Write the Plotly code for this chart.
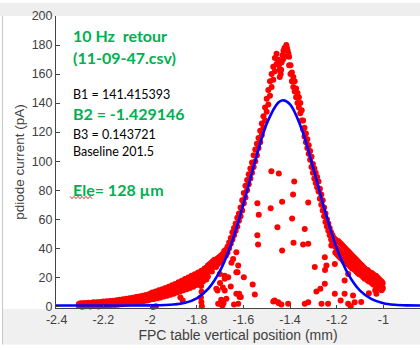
import plotly.graph_objects as go

# ---------------- data ----------------
tail_x = [-2.305, -2.298, -2.291, -2.284, -2.277, -2.270, -2.263, -2.256, -2.249, -2.242, -2.235,
          -2.228, -2.221, -2.214, -2.207, -2.200, -2.193, -2.186, -2.179, -2.172, -2.165, -2.158,
          -2.151, -2.144, -2.137, -2.130, -2.123, -2.116, -2.109, -2.102, -2.095, -2.088, -2.081,
          -2.074, -2.067, -2.060, -2.053, -2.046, -2.039, -2.032, -2.025, -2.018, -2.011, -2.004]
tail_lo = [0.2, 0.8, -0.3, 0.5, 0.0, 0.9, 0.3, -0.2, 0.6, 1.0, 0.1, 0.7, -0.1, 0.9, 0.4, 1.2, 0.5,
           1.0, 0.2, 1.3, 0.8, 1.5, 0.9, 1.6, 1.1, 1.9, 1.4, 2.0, 1.6, 2.4, 1.9, 2.6, 2.2, 2.9, 2.5,
           3.2, 2.8, 3.5, 3.1, 3.8, 3.6, 4.2, 3.9, 4.5]
tail_hi = [1.5, 2.0, 1.8, 2.3, 1.6, 2.2, 2.5, 1.9, 2.4, 2.7, 2.1, 2.8, 2.5, 3.0, 2.6, 3.2, 2.9,
           3.4, 3.0, 3.6, 3.3, 3.8, 3.5, 4.1, 3.9, 4.4, 4.2, 4.8, 4.5, 5.1, 4.9, 5.5, 5.2, 5.9, 5.6,
           6.3, 6.0, 6.8, 6.5, 7.2, 7.0, 7.8, 7.4, 8.3]

mid_x = [-1.997, -1.990, -1.983, -1.976, -1.969, -1.962, -1.955, -1.948, -1.941, -1.934, -1.927,
         -1.920, -1.913, -1.906, -1.899, -1.892, -1.885, -1.878, -1.871, -1.864, -1.857, -1.850,
         -1.843, -1.836, -1.829, -1.822, -1.815, -1.808, -1.801, -1.794, -1.787, -1.780, -1.773,
         -1.766, -1.759, -1.752]
mid_lo = [4.8, 5.2, 5.0, 5.8, 5.5, 6.4, 6.0, 7.0, 6.8, 7.5, 7.2, 8.3, 8.0, 9.0, 8.6, 9.8, 9.4,
          10.5, 10.2, 11.4, 11.0, 12.2, 11.8, 13.0, 12.6, 14.0, 13.5, 15.0, 14.6, 16.2, 15.8, 17.5,
          17.0, 19.0, 18.5, 20.5]
mid_md = [6.5, 7.0, 7.4, 7.8, 8.0, 8.6, 8.8, 9.3, 9.6, 10.0, 10.4, 11.0, 11.2, 11.8, 12.0, 12.6,
          12.8, 13.5, 13.6, 14.4, 14.6, 15.5, 15.6, 16.4, 16.8, 17.5, 17.6, 18.4, 18.8, 19.6, 20.0,
          21.0, 21.2, 22.4, 22.8, 24.0]
mid_hi = [8.8, 9.5, 9.2, 10.2, 10.0, 11.0, 10.6, 11.8, 11.5, 12.6, 12.2, 13.5, 13.2, 14.5, 14.0,
          15.4, 15.0, 16.5, 16.2, 17.6, 17.2, 18.8, 18.5, 19.8, 19.5, 21.0, 20.6, 22.0, 21.8, 23.2,
          23.0, 24.5, 24.6, 26.0, 26.5, 28.0]

lb_x = [-1.745, -1.738, -1.731, -1.724, -1.717, -1.710, -1.703, -1.696, -1.689, -1.682, -1.675,
        -1.668, -1.661, -1.654, -1.647, -1.640, -1.633, -1.626, -1.619, -1.612, -1.605, -1.598,
        -1.591, -1.584, -1.577, -1.570, -1.563, -1.556, -1.549, -1.542, -1.535, -1.528, -1.521,
        -1.514, -1.507, -1.500, -1.493, -1.486, -1.479, -1.472, -1.465, -1.458]
lb_y1 = [29, 30, 31, 32, 31, 33, 34, 35, 36, 38, 39, 41, 44, 47, 51, 54, 57, 61, 64, 68, 73, 78,
         83, 87, 91, 95, 99, 104, 108, 112, 116, 121, 126, 131, 137, 143, 149, 155, 160, 165, 171, 174]
lb_y2 = [25, 26, 27, 28, 27, 29, 30, 31, 33, 34, 35, 37, 40, 43, 46, 49, 52, 55, 59, 62, 66, 71,
         75, 80, 84, 88, 92, 96, 100, 104, 109, 113, 118, 123, 128, 134, 139, 145, 151, 156, 162, 167]

pk_x = [-1.452, -1.448, -1.444, -1.440, -1.436, -1.432, -1.428, -1.424, -1.420, -1.416, -1.413,
        -1.410, -1.407, -1.444, -1.438, -1.430, -1.422]
pk_y = [170, 166, 163, 160, 168, 173, 176, 178, 177, 180, 178, 176, 174, 158, 163, 170, 172]

rb_x = [-1.404, -1.398, -1.392, -1.386, -1.380, -1.374, -1.368, -1.362, -1.356, -1.350, -1.344,
        -1.338, -1.332, -1.326, -1.320, -1.314, -1.308, -1.302, -1.296, -1.290, -1.284, -1.278,
        -1.272, -1.266, -1.260, -1.254, -1.248, -1.242, -1.236, -1.230, -1.224, -1.218, -1.212]
rb_y1 = [172, 166, 161, 158, 155, 150, 147, 144, 140, 135, 128, 123, 119, 115, 111, 107, 103, 98,
         95, 92, 89, 86, 81, 77, 73, 68, 64, 60, 57, 54, 51, 49, 47]
rb_y2 = [166, 160, 155, 151, 148, 144, 140, 137, 133, 128, 122, 117, 113, 109, 105, 101, 96, 92,
         88, 85, 82, 79, 74, 70, 66, 62, 58, 55, 52, 49, 46, 44, 42]

rt_x = [-1.206, -1.200, -1.194, -1.188, -1.182, -1.176, -1.170, -1.164, -1.158, -1.152, -1.146,
        -1.140, -1.134, -1.128, -1.122, -1.116, -1.110, -1.104, -1.098, -1.092, -1.086, -1.080,
        -1.074, -1.068, -1.062, -1.056, -1.050, -1.044, -1.038, -1.032, -1.026, -1.020, -1.014,
        -1.008, -1.003]
rt_y1 = [46, 45, 45, 44, 43, 42, 41, 40, 39, 38, 37, 36, 35, 34, 33, 32, 31, 30, 29, 28, 27, 26,
         25, 25, 24, 23, 23, 22, 21, 21, 20, 19, 18, 17, 16]
rt_y2 = [41, 40, 39, 38, 37, 36, 36, 35, 34, 33, 32, 31, 30, 29, 28, 27, 26, 26, 25, 24, 23, 22,
         22, 21, 20, 19, 19, 18, 17, 16, 16, 15, 14, 14, 13]
rt_y3 = [37, 36, 35, 34, 33, 32, 31, 30, 30, 29, 28, 27, 26, 26, 25, 24, 23, 22, 22, 21, 20, 19,
         19, 18, 17, 17, 16, 15, 15, 14, 13, 13, 12, 11, 12]

out_x = [-1.480, -1.448, -1.382, -1.387, -1.434, -1.540, -1.483, -1.534, -1.391, -1.454, -1.540,
         -1.537, -1.385, -1.434, -1.322, -1.337, -1.344, -1.322, -1.251, -1.244, -1.250, -1.294,
         -1.223, -1.208, -1.166, -1.151, -1.030, -1.251, -1.287, -1.208, -1.166, -1.130, -1.151,
         -1.140, -1.123, -1.322, -1.337, -1.237, -1.265, -1.408, -1.472, -1.451, -1.466, -1.448,
         -1.437, -1.551, -1.630, -1.616, -1.622, -1.673, -1.708, -1.716, -1.680, -1.630, -1.622,
         -1.651, -1.701, -1.644, -1.630, -1.625, -1.665, -1.680, -1.654, -1.618, -1.640, -1.690,
         -1.685, -1.693, -1.781, -1.779, -1.782, -1.780, -1.778, -1.680, -1.711, -1.695, -1.987,
         -1.975, -1.870, -1.860, -1.611, -1.700, -1.688, -1.035, -1.062, -1.095, -1.270, -1.183,
         -1.560, -1.598, -1.735, -1.760]
out_y = [93, 91.5, 86, 77, 72, 71, 67.5, 63, 60.5, 54.4, 49, 42.5, 43.8, 38.4, 71.5, 53.3, 42.5,
         43, 33.7, 28, 25, 27, 41.8, 29.2, 17.7, 22.3, 8.6, 15.5, 10.2, 8.6, 8.6, 7.4, 1.7, 0, 2.8,
         2.8, 1.7, 1.7, 1.7, 1.7, 3.3, 2.8, 4, 2.1, 1.2, 8.1, 8.6, 6.3, 1.7, 5.2, 1.7, 12, 21, 23.4,
         28, 30, 22.3, 32.6, 37.2, 23.4, 20, 19, 13.6, 8.6, 1.2, 0.5, 2, 1.2, 14, 10, 6, 3, 0, 10.9,
         10.9, 4.5, -0.5, 0, 6, 4, 6.3, 16, 13, 11, 9, 3, 12, 4, 15, 20, 24, 22]

# fitted curve values
fit_x = [-2.41, -2.20, -2.00, -1.90, -1.85, -1.80, -1.75, -1.70, -1.65, -1.60, -1.55, -1.50,
         -1.45, -1.43, -1.40, -1.35, -1.30, -1.25, -1.20, -1.15, -1.10, -1.05, -1.00, -0.95,
         -0.90, -0.84]
fit_y = [0.5, 0.5, 0.6, 1.2, 2.4, 5.5, 12.2, 24.4, 43.8, 70.2, 99.7, 125.7, 140.4, 141.9, 139.1,
         122.1, 95.0, 65.6, 40.2, 22.0, 10.8, 4.9, 2.1, 1.0, 0.6, 0.5]

x_ticks = [-2.4, -2.2, -2.0, -1.8, -1.6, -1.4, -1.2, -1.0]
x_tick_text = ["-2.4", "-2.2", "-2", "-1.8", "-1.6", "-1.4", "-1.2", "-1"]
y_ticks = [0, 20, 40, 60, 80, 100, 120, 140, 160, 180, 200]

# ---------------- assemble ----------------
pts_x = (tail_x + tail_x + mid_x + mid_x + mid_x + lb_x + lb_x + pk_x + rb_x + rb_x
         + rt_x + rt_x + rt_x + out_x)
pts_y = (tail_lo + tail_hi + mid_lo + mid_md + mid_hi + lb_y1 + lb_y2 + pk_y + rb_y1 + rb_y2
         + rt_y1 + rt_y2 + rt_y3 + out_y)

fig = go.Figure()
fig.add_trace(go.Scatter(x=pts_x, y=pts_y, mode="markers",
                         marker=dict(color="#ff0000", size=6, line=dict(width=0)),
                         showlegend=False, cliponaxis=False))
fig.add_trace(go.Scatter(x=fit_x, y=fit_y, mode="lines", line_shape="spline",
                         line=dict(color="#0000ff", width=2.6), showlegend=False))

GREEN = "#00b050"
FONT = "Lato"
ann_x = -2.340
anns = [
    ("10 Hz\u00a0 retour", 186.3, 16, GREEN, True),
    ("(11-09-47.csv)", 171.1, 16, GREEN, True),
    ("B1 = 141.415393", 145.6, 12.5, "#000000", False),
    ("B2 = -1.429146", 132.5, 16, GREEN, True),
    ("B3 = 0.143721", 118.1, 12.5, "#000000", False),
    ("Baseline 201.5", 106.3, 12.5, "#000000", False),
    ("Ele= 128 µm", 80.2, 16, GREEN, True),
]
for txt, yv, sz, col, bold in anns:
    fig.add_annotation(x=ann_x, y=yv, xref="x", yref="y", text=(f"<b>{txt}</b>" if bold else txt),
                       showarrow=False, xanchor="left", yanchor="middle",
                       font=dict(family=FONT, size=sz, color=col))

# background decorations (window chrome)
shapes = [
    dict(type="rect", xref="paper", yref="paper", x0=-0.2, x1=1.01, y0=1.0, y1=1.0445,
         fillcolor="#eeeeee", line=dict(width=0), layer="below"),
    dict(type="rect", xref="paper", yref="paper", x0=-0.146, x1=1.01, y0=-0.125, y1=-0.003,
         fillcolor="#f0f0f0", line=dict(width=0), layer="below"),
    dict(type="line", xref="paper", yref="paper", x0=-0.147, x1=-0.147, y0=-0.125, y1=1.0,
         line=dict(color="#c8c8c8", width=1)),
]
# red spell-check squiggle under "Ele"
zz = []
px0, px1, pyb = 70.0, 92.0, 197.5
n = 11
for i in range(n + 1):
    px = px0 + (px1 - px0) * i / n
    py = pyb + (1.2 if i % 2 else -1.2)
    zz.append(((px - 56) / 364, (308 - py) / 292))
path = "M " + " L ".join(f"{a:.4f},{b:.4f}" for a, b in zz)
shapes.append(dict(type="path", xref="paper", yref="paper", path=path,
                   line=dict(color="#e03030", width=1)))

fig.update_layout(
    width=420, height=350,
    margin=dict(l=56, r=0, t=16, b=42, pad=0),
    paper_bgcolor="#ffffff", plot_bgcolor="#ffffff",
    shapes=shapes,
    font=dict(family="Liberation Sans", color="#404040"),
    xaxis=dict(range=[-2.403, -0.843], tickvals=x_ticks, ticktext=x_tick_text,
               showgrid=False, zeroline=False, showline=True, linecolor="#444444", linewidth=1,
               ticks="inside", ticklen=3, tickcolor="#444444", tickfont=dict(size=12.5),
               title=dict(text="FPC table vertical position (mm)", font=dict(size=14),
                          standoff=0)),
    yaxis=dict(range=[-1.2, 200], tickvals=y_ticks, showgrid=False, zeroline=False,
               showline=True, linecolor="#444444", linewidth=1,
               ticks="inside", ticklen=4, tickcolor="#444444", tickfont=dict(size=12.5),
               title=dict(text="pdiode current (pA)", font=dict(size=13.5), standoff=3)),
)

fig.write_html("out.html")
